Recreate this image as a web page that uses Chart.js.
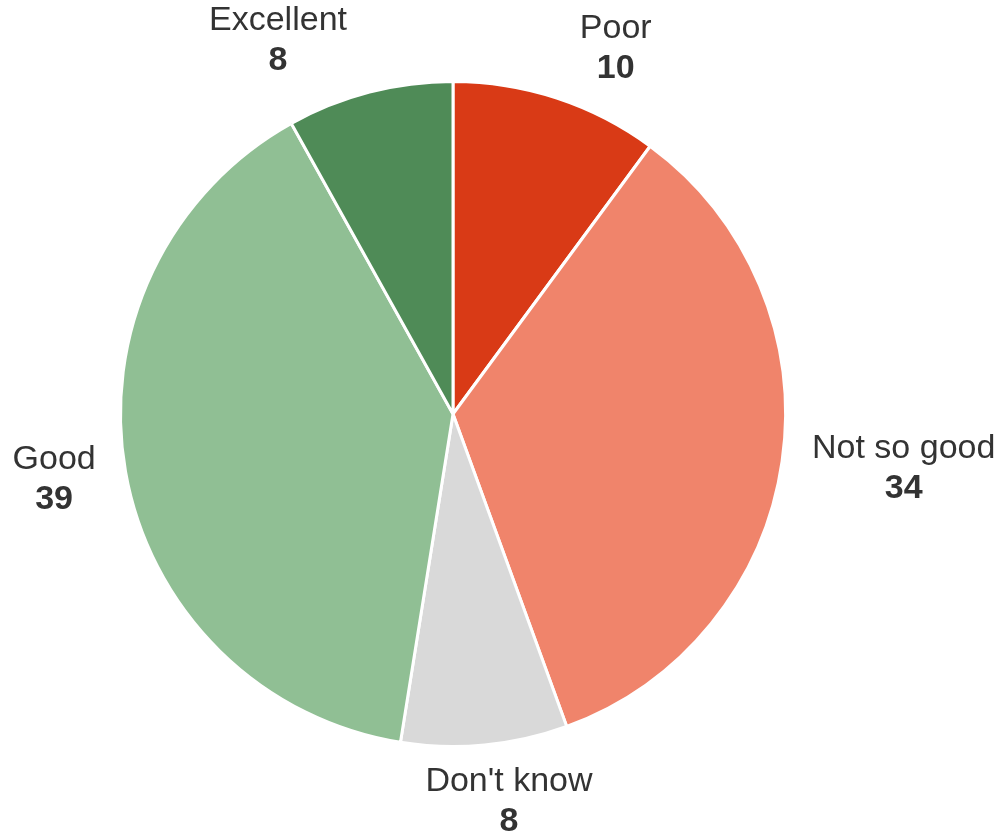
<!DOCTYPE html>
<html><head><meta charset="utf-8">
<script src="https://cdn.jsdelivr.net/npm/chart.js@4"></script>
<style>html,body{margin:0;padding:0;background:#fff;}#wrap{width:999px;height:836px;}</style>
</head><body><div id="wrap"><canvas id="c" width="999" height="836"></canvas></div>
<script>
const categories = ["Poor", "Not so good", "Don't know", "Good", "Excellent"];
const values = [10, 34, 8, 39, 8];
const valueLabels = ["10", "34", "8", "39", "8"];
const colors = ["#D93A16", "#F0846B", "#D9D9D9", "#90BF94", "#4F8B57"];

const FONT = "'Liberation Sans', Arial, sans-serif";
const outsideLabels = {
  id: 'outsideLabels',
  afterDatasetsDraw(chart) {
    const ctx = chart.ctx;
    const meta = chart.getDatasetMeta(0);
    ctx.save();
    ctx.fillStyle = '#333333';
    ctx.textAlign = 'center';
    ctx.textBaseline = 'middle';
    const lineGap = 40;
    meta.data.forEach((arc, i) => {
      const mid = (arc.startAngle + arc.endAngle) / 2;
      const ux = Math.cos(mid), uy = Math.sin(mid);
      const R = arc.outerRadius + 10;
      ctx.font = '34px ' + FONT;
      const w1 = ctx.measureText(categories[i]).width;
      ctx.font = 'bold 34px ' + FONT;
      const w2 = ctx.measureText(valueLabels[i]).width;
      const w = Math.max(w1, w2);
      const sx = ux < 0 ? -1 : 1, sy = uy < 0 ? -1 : 1;
      const f = Math.min(1, Math.pow(Math.abs(ux) / 0.2, 2));
      const ox = sx * (w / 2 + 20) * f;
      const oy = sy * 50 / (1 + (ux * ux) / (uy * uy)) + 5;
      const cx = arc.x + R * ux + ox;
      let cy = arc.y + R * uy + oy;
      // keep the text block inside the canvas
      cy = Math.min(cy, chart.height - 14 - lineGap / 2);
      cy = Math.max(cy, 14 + lineGap / 2);
      ctx.font = '34px ' + FONT;
      ctx.fillText(categories[i], cx, cy - lineGap / 2);
      ctx.font = 'bold 34px ' + FONT;
      ctx.fillText(valueLabels[i], cx, cy + lineGap / 2);
    });
    ctx.restore();
  }
};

new Chart(document.getElementById('c'), {
  type: 'pie',
  data: {
    labels: categories,
    datasets: [{
      data: values,
      backgroundColor: colors,
      borderColor: '#ffffff',
      borderWidth: 3
    }]
  },
  options: {
    responsive: false,
    animation: false,
    layout: { padding: { left: 119, right: 212, top: 80, bottom: 88 } },
    plugins: { legend: { display: false }, tooltip: { enabled: false } }
  },
  plugins: [outsideLabels]
});
</script></body></html>
